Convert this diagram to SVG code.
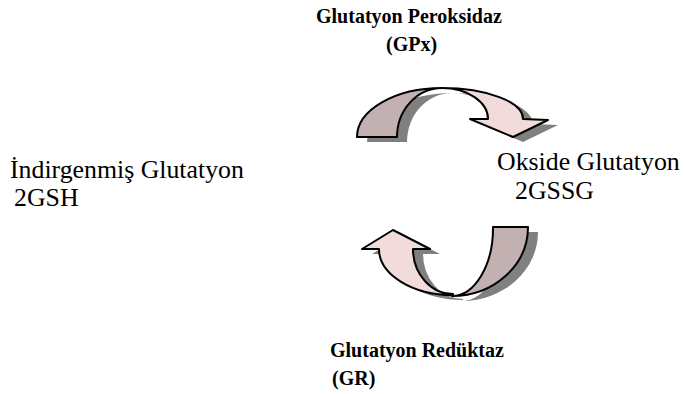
<svg xmlns="http://www.w3.org/2000/svg" width="684" height="394" viewBox="0 0 684 394">
<style>
text{font-family:'Liberation Serif','Times New Roman',Times,serif;fill:#000}
.b{font-weight:bold;font-size:20px}
.r{font-size:25.8px}
.dark{fill:#c3b1b1;stroke:#000;stroke-width:2;stroke-linejoin:round}
.light{fill:#f2dcdb;stroke:#000;stroke-width:2;stroke-linejoin:round}
.sh{fill:#808080;stroke:none}
</style>
<rect width="684" height="394" fill="#fff"/>
<g id="connectors">
<g id="arrow-top">
<g class="sh" transform="translate(10,5)">
<path d="M357,137 A85,49 0 0 1 442,88 A45,49 0 0 0 397,137 Z"/>
<path d="M442,88 A81,31 0 0 1 523,119 L548,120 L513,137 L470,119 L488,119 A46,31 0 0 0 442,88 Z"/>
</g>
<path class="dark" d="M357,137 A85,49 0 0 1 442,88 A45,49 0 0 0 397,137 Z"/>
<path class="light" d="M442,88 A81,31 0 0 1 523,119 L548,120 L513,137 L470,119 L488,119 A46,31 0 0 0 442,88 Z"/>
</g>
<g id="arrow-bottom">
<g class="sh" transform="translate(10,5)">
<path d="M493,227 L528,227 A76,69 0 0 1 452,296 A41,68 0 0 0 493,227 Z"/>
<path d="M453,295 A74,46 0 0 1 379,249 L362,249 L393,230 L430,249 L413,249 A40,45 0 0 0 453,294 Z"/>
</g>
<path class="light" d="M453,295 A74,46 0 0 1 379,249 L362,249 L393,230 L430,249 L413,249 A40,45 0 0 0 453,294 Z"/>
<path class="dark" d="M493,227 L528,227 A76,69 0 0 1 452,296 A41,68 0 0 0 493,227 Z"/>
</g>
</g>
<g id="gpx">
<text class="b" x="316" y="23">Glutatyon Peroksidaz</text>
<text class="b" x="386" y="51">(GPx)</text>
</g>
<g id="gsh">
<text class="r" x="10" y="178">İndirgenmiş Glutatyon</text>
<text class="r" x="14" y="206">2GSH</text>
</g>
<g id="gssg">
<text class="r" x="497" y="170">Okside Glutatyon</text>
<text class="r" x="515" y="199">2GSSG</text>
</g>
<g id="gr">
<text class="b" x="330" y="357">Glutatyon Redüktaz</text>
<text class="b" x="332" y="385">(GR)</text>
</g>
</svg>
